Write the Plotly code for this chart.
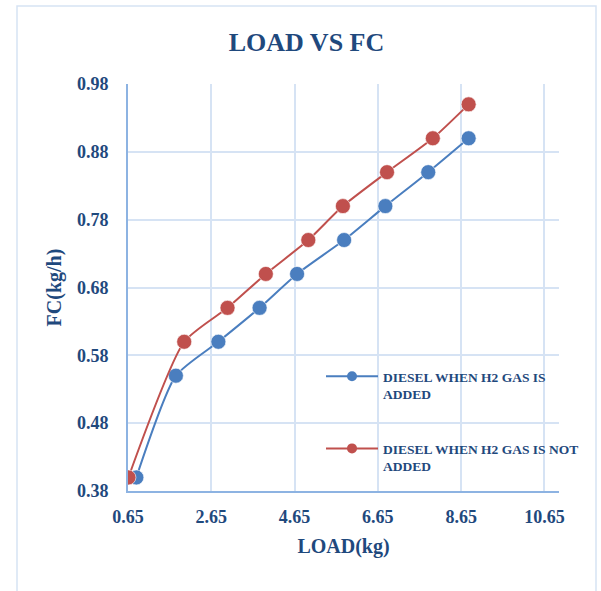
import plotly.graph_objects as go

load_h2 = [0.85, 1.80, 2.82, 3.81, 4.71, 5.84, 6.83, 7.86, 8.83]
fc_h2 = [0.40, 0.55, 0.60, 0.65, 0.70, 0.75, 0.80, 0.85, 0.90]
load_no_h2 = [0.66, 2.00, 3.04, 3.96, 4.98, 5.81, 6.87, 7.97, 8.83]
fc_no_h2 = [0.40, 0.60, 0.65, 0.70, 0.75, 0.80, 0.85, 0.90, 0.95]
names = ["DIESEL WHEN H2 GAS IS<br>ADDED", "DIESEL WHEN H2 GAS IS NOT<br>ADDED"]
x_ticks = [0.65, 2.65, 4.65, 6.65, 8.65, 10.65]
y_ticks = [0.38, 0.48, 0.58, 0.68, 0.78, 0.88, 0.98]

BLUE = "#4A7EBF"
RED = "#C0504D"
TXT = "#1F497D"
GRID = "#D6E3F4"
AXIS = "#8DB3E2"
FONT = "Liberation Serif"

fig = go.Figure()
for xs, ys, col, nm, g in [(load_h2, fc_h2, BLUE, names[0], "a"),
                           (load_no_h2, fc_no_h2, RED, names[1], "b")]:
    fig.add_trace(go.Scatter(x=xs, y=ys, mode="lines+markers", showlegend=False,
                             line=dict(color=col, width=2, shape="spline", smoothing=0.6),
                             marker=dict(size=15, color=col, line=dict(color="rgba(255,255,255,0.6)", width=1))))
    fig.add_trace(go.Scatter(x=[None], y=[None], mode="lines+markers", name=nm, legendgroup=g,
                             line=dict(color=col, width=2), marker=dict(size=10, color=col)))

W, H = 601, 591
L, R, T, B = 128, 559, 84, 491
pw, ph = R - L, B - T
fig.add_shape(type="rect", xref="paper", yref="paper",
              x0=(17 - L) / pw, x1=(596 - L) / pw, y0=(B - 620) / ph, y1=(B - 6) / ph,
              line=dict(color=GRID, width=1.5), fillcolor="rgba(0,0,0,0)", layer="below")

fig.update_layout(
    width=W, height=H,
    margin=dict(l=L, r=W - R, t=T, b=H - B),
    paper_bgcolor="white", plot_bgcolor="white",
    font=dict(family=FONT, color=TXT),
    title=dict(text="<b>LOAD VS FC</b>", x=(17 + 596) / 2 / W, xanchor="center",
               y=1 - 42 / H, yanchor="middle", font=dict(size=26, color=TXT, family=FONT)),
    legend=dict(x=(321 - L) / pw, xanchor="left", y=(B - 361) / ph, yanchor="top",
                bgcolor="rgba(0,0,0,0)", font=dict(size=13.5, family=FONT, color=TXT, weight="bold"),
                tracegroupgap=34, valign="top", itemwidth=52),
    xaxis=dict(range=[0.65, 11.0], tickvals=x_ticks, ticktext=[f"{v:.2f}" for v in x_ticks],
               showgrid=True, gridcolor=GRID, gridwidth=2, zeroline=False,
               showline=True, linecolor=AXIS, linewidth=2,
               tickfont=dict(size=18, family=FONT, color=TXT, weight="bold"),
               ticks="", ticklabelstandoff=8,
               title=dict(text="<b>LOAD(kg)</b>", font=dict(size=20, family=FONT, color=TXT), standoff=13)),
    yaxis=dict(range=[0.38, 0.98], tickvals=y_ticks, ticktext=[f"{v:.2f}" for v in y_ticks],
               showgrid=True, gridcolor=GRID, gridwidth=2, zeroline=False,
               showline=True, linecolor=AXIS, linewidth=2,
               tickfont=dict(size=18, family=FONT, color=TXT, weight="bold"),
               ticks="", ticklabelstandoff=14,
               title=dict(text="<b>FC(kg/h)</b>", font=dict(size=20, family=FONT, color=TXT), standoff=10)),
)
fig.write_html("out.html")
